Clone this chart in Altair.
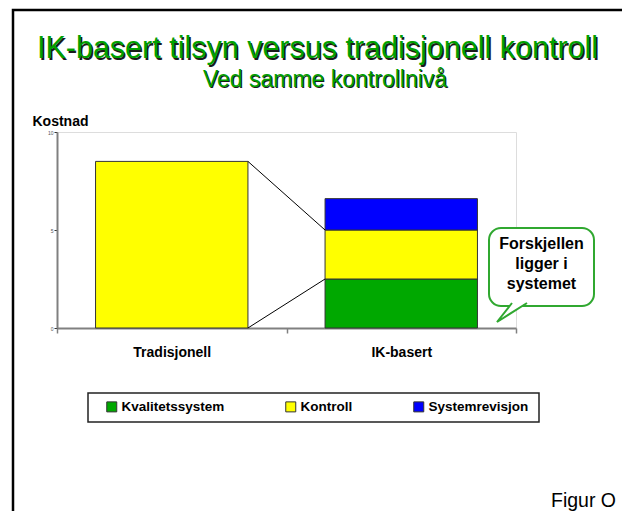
import altair as alt
import pandas as pd

categories = ["Tradisjonell", "IK-basert"]
series = ["Kvalitetssystem", "Kontroll", "Systemrevisjon"]
colors = ["#00A800", "#FFFF00", "#0000FF"]
values_trad = [0.0, 8.5, 0.0]
values_ik = [2.5, 2.5, 1.6]
y_ticks = [0, 5, 10]

HALF = 0.332  # half bar width in category units
FONT = "Liberation Sans"

# stacked rectangles
rows = []
for ci, (cat, vals) in enumerate(zip(categories, [values_trad, values_ik])):
    base = 0.0
    for s, v in zip(series, vals):
        if v > 0:
            rows.append({"cat": cat, "series": s, "x0": ci + 0.5 - HALF, "x1": ci + 0.5 + HALF,
                         "y0": base, "y1": base + v})
        base += v
bars = pd.DataFrame(rows)

# connector lines between Tradisjonell and IK-basert "Kontroll"
trad_top = sum(values_trad)
ik_k0 = values_ik[0]
ik_k1 = values_ik[0] + values_ik[1]
lines = pd.DataFrame([
    {"x": 0.5 + HALF, "y": trad_top, "x2": 1.5 - HALF, "y2": ik_k1},
    {"x": 0.5 + HALF, "y": 0.0, "x2": 1.5 - HALF, "y2": ik_k0},
])

W, H = 459, 196
one = pd.DataFrame({"a": [0]})

xscale = alt.Scale(domain=[0, 2], nice=False, zero=False)
yscale = alt.Scale(domain=[0, 10], nice=False)

border = alt.Chart(one).mark_rect(fill=None, stroke="black", strokeWidth=2.5).encode(
    x=alt.value(-44), x2=alt.value(575), y=alt.value(-122), y2=alt.value(420))

bar_layer = alt.Chart(bars).mark_rect(stroke="#333333", strokeWidth=1).encode(
    x=alt.X("x0:Q", scale=xscale, axis=alt.Axis(
        values=[0, 0.5, 1, 1.5, 2],
        labelExpr="datum.value == 0.5 ? 'Tradisjonell' : (datum.value == 1.5 ? 'IK-basert' : '')",
        tickOpacity={"condition": {"test": "datum.value % 1 === 0", "value": 1}, "value": 0},
        title=None, grid=False, domainColor="#808080", domainWidth=2, tickColor="#808080",
        tickWidth=1.5, tickSize=5, labelFont=FONT, labelFontSize=14, labelFontWeight="bold",
        labelColor="black", labelPadding=12, labelAlign="center")),
    x2="x1:Q",
    y=alt.Y("y0:Q", scale=yscale, axis=alt.Axis(
        values=y_ticks, title="Kostnad", titleAngle=0, titleAlign="left", titleBaseline="alphabetic",
        titleX=-25, titleY=-7, titleFont=FONT, titleFontSize=14, titleFontWeight="bold",
        titleColor="black", grid=False, domainColor="#808080", domainWidth=2, tickColor="#333333",
        tickSize=3, labelFontSize=5, labelColor="#555555", labelPadding=1, labelFont=FONT)),
    y2="y1:Q",
    color=alt.Color("series:N", scale=alt.Scale(domain=series, range=colors), legend=alt.Legend(
        title=None, orient="none", legendX=48, legendY=268, direction="horizontal",
        symbolType="square", symbolSize=100, symbolStrokeColor="#333333", symbolStrokeWidth=1,
        labelFont=FONT, labelFontSize=13.5, labelFontWeight="bold", labelColor="black",
        columnPadding=58, labelOffset=3)),
)

line_layer = alt.Chart(lines).mark_rule(color="black", strokeWidth=1).encode(
    x=alt.X("x:Q", scale=xscale), y=alt.Y("y:Q", scale=yscale), x2="x2:Q", y2="y2:Q")

legend_box = alt.Chart(one).mark_rect(fill="white", stroke="#222222", strokeWidth=1.5).encode(
    x=alt.value(31), x2=alt.value(482), y=alt.value(261), y2=alt.value(290))

TITLE = "IK-basert tilsyn versus tradisjonell kontroll"
SUB = "Ved samme kontrollnivå"
title_shadow = alt.Chart(one).mark_text(text=TITLE, font=FONT, fontSize=30.5, color="#1a1a1a",
    align="center", baseline="alphabetic").encode(x=alt.value(262), y=alt.value(-72.5))
title_main = alt.Chart(one).mark_text(text=TITLE, font=FONT, fontSize=30.5, color="#00A000",
    align="center", baseline="alphabetic").encode(x=alt.value(260.5), y=alt.value(-74))
sub_shadow = alt.Chart(one).mark_text(text=SUB, font=FONT, fontSize=23, color="#1a1a1a",
    align="center", baseline="alphabetic").encode(x=alt.value(269), y=alt.value(-44))
sub_main = alt.Chart(one).mark_text(text=SUB, font=FONT, fontSize=23, color="#00A000",
    align="center", baseline="alphabetic").encode(x=alt.value(268), y=alt.value(-45))

callout_box = alt.Chart(one).mark_rect(fill="white", stroke="#30A830", strokeWidth=2,
    cornerRadius=12).encode(x=alt.value(432), x2=alt.value(537), y=alt.value(96), y2=alt.value(174))
callout_tail = alt.Chart(one).mark_point(shape="M -0.2 -1 L -1.7 0.9 L 1.3 -1", size=400,
    fill="white", filled=True, stroke="#30A830", strokeWidth=2, opacity=1).encode(
    x=alt.value(457), y=alt.value(181))
callout_text = alt.Chart(one).mark_text(text=["Forskjellen", "ligger i", "systemet"],
    font=FONT, fontSize=16, fontWeight="bold", color="black", align="center",
    baseline="alphabetic", lineHeight=20).encode(x=alt.value(484.5), y=alt.value(117))

figur = alt.Chart(one).mark_text(text="Figur O", font=FONT, fontSize=19.5, color="black",
    align="left", baseline="alphabetic").encode(x=alt.value(494), y=alt.value(375))

chart = alt.layer(
    border, title_shadow, title_main, sub_shadow, sub_main, legend_box,
    bar_layer, line_layer, callout_box, callout_tail, callout_text, figur
).properties(
    width=W, height=H,
    autosize=alt.AutoSizeParams(type="none"),
    padding={"left": 49, "top": 124, "right": 106, "bottom": 183},
).configure_view(stroke=None).configure(background="white")

chart.save("out.html", embed_options={"renderer": "svg", "actions": False})
